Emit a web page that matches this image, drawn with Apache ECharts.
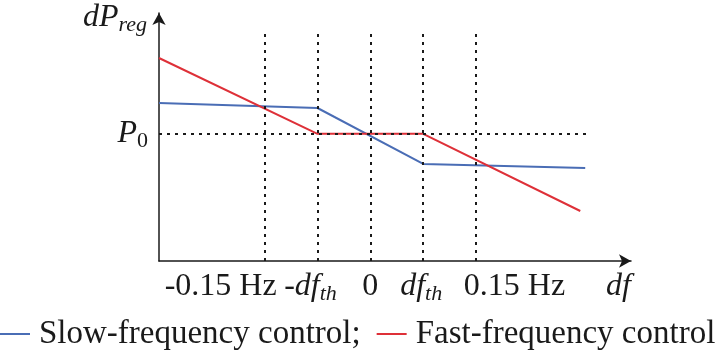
<!DOCTYPE html>
<html><head><meta charset="utf-8">
<script src="https://cdn.jsdelivr.net/npm/echarts@6/dist/echarts.min.js"></script>
<style>html,body{margin:0;padding:0;background:#fff}#c{width:718px;height:355px}</style>
</head><body><div id="c"></div>
<script>
// ---------------- data ----------------
const tickValues = [-0.15, -0.075, 0, 0.075, 0.15];
const tickLabels = ['-0.15 Hz', '-df_th', '0', 'df_th', '0.15 Hz'];
const slowX = [-0.3, -0.075, 0.075, 0.305];
const slowY = [1.242, 1.203, 0.763, 0.731];
const fastX = [-0.3, -0.075, 0.075, 0.298];
const fastY = [1.596, 1.0, 1.0, 0.393];
const p0Value = 1.0;
const guideTop = 1.8;
const guideRight = 0.3075;
const seriesNames = ['Slow-frequency control;', 'Fast-frequency control'];
const yAxisName = 'dP_reg';
const xAxisName = 'df';
const p0Label = 'P_0';

// ---------------- style ----------------
const FONT = "'Liberation Serif', 'Times New Roman', serif";
const INK = '#1a1a1a';
const BLUE = '#4a6db5';
const RED = '#de3038';
const labelShift = [-44, -7, 0, -2, 38.5]; // horizontal nudge of tick labels (px)
const X_MIN = -0.3, X_MAX = 0.37;

const rich = {
  t: {fontFamily: FONT, fontSize: 32, lineHeight: 36, color: INK},
  i: {fontFamily: FONT, fontSize: 32, lineHeight: 36, color: INK, fontStyle: 'italic'},
  s: {fontFamily: FONT, fontSize: 22, lineHeight: 18, color: INK, fontStyle: 'italic', verticalAlign: 'bottom'},
  s0: {fontFamily: FONT, fontSize: 22, lineHeight: 18, color: INK, verticalAlign: 'bottom'}
};
labelShift.forEach((s, k) => { rich['sp' + k] = {fontSize: 10, lineHeight: 36, width: Math.abs(s) * 2}; });

function toRich(label) {
  const parts = label.split('_');
  const main = parts[0];
  let out = '';
  if (/^-?[A-Za-z]+$/.test(main)) {
    const m = main.match(/^(-?)([A-Za-z]+)$/);
    if (m[1]) out += '{t|' + m[1] + '}';
    out += '{i|' + m[2] + '}';
  } else {
    out += '{t|' + main + '}';
  }
  if (parts[1] !== undefined) {
    out += /^[0-9]+$/.test(parts[1]) ? '{s0|' + parts[1] + '}' : '{s|' + parts[1] + '}';
  }
  return out;
}

function tickText(k) {
  const body = toRich(tickLabels[k]);
  const s = labelShift[k];
  if (s < 0) return body + '{sp' + k + '| }';
  if (s > 0) return '{sp' + k + '| }' + body;
  return body;
}

const chart = echarts.init(document.getElementById('c'), null, {renderer: 'canvas'});

const guideLines = tickValues.map(v => [{coord: [v, 0]}, {coord: [v, guideTop]}]);
guideLines.push([{coord: [slowX[0], p0Value]}, {coord: [guideRight, p0Value]}]);

// main x axis (line, arrow, name)
const xAxes = [{
  type: 'value', min: X_MIN, max: X_MAX,
  name: toRich(xAxisName), nameLocation: 'end', nameGap: 0, nameMoveOverlap: false,
  nameTextStyle: {align: 'right', verticalAlign: 'top', padding: [8, 0, 0, 0], rich: rich},
  axisLine: {show: true, onZero: false, symbol: ['none', 'arrow'], symbolSize: [10, 12],
    lineStyle: {color: INK, width: 1.5}},
  axisTick: {show: false},
  splitLine: {show: false},
  axisLabel: {show: false}
}];
// one label-carrying axis per tick, so no label is auto-hidden
tickValues.forEach((v, k) => {
  xAxes.push({
    type: 'value', min: X_MIN, max: X_MAX, position: 'bottom', offset: 0,
    axisLine: {show: false}, axisTick: {show: false}, splitLine: {show: false},
    axisLabel: {customValues: [v], formatter: () => tickText(k), margin: 8, rich: rich, hideOverlap: false}
  });
});

chart.setOption({
  animation: false,
  backgroundColor: '#fff',
  grid: {left: 159, right: 87, top: 13, bottom: 94, containLabel: false, outerBoundsMode: 'none'},
  legend: {
    data: seriesNames,
    left: 0, top: 317, width: 760, padding: 0,
    itemWidth: 30, itemHeight: 14, itemGap: 16,
    icon: 'path://M0,6 L30,6 L30,8 L0,8 Z',
    textStyle: {fontFamily: FONT, fontSize: 33, lineHeight: 34, color: INK, padding: [0, 0, 0, 4]}
  },
  xAxis: xAxes,
  yAxis: {
    type: 'value', min: 0, max: 1.95,
    name: toRich(yAxisName), nameLocation: 'end', nameGap: 13, nameMoveOverlap: false,
    nameTextStyle: {align: 'right', verticalAlign: 'top', padding: [0, 12, 0, 0], rich: rich},
    axisLine: {show: true, onZero: false, symbol: ['none', 'arrow'], symbolSize: [10, 12],
      lineStyle: {color: INK, width: 1.5}},
    axisTick: {show: false},
    splitLine: {show: false},
    axisLabel: {customValues: [p0Value], formatter: () => toRich(p0Label), margin: 11, rich: rich}
  },
  series: [
    {
      name: 'guides', type: 'line', data: [], silent: true, z: 1, xAxisIndex: 0,
      markLine: {
        silent: true, symbol: ['none', 'none'], label: {show: false},
        lineStyle: {color: INK, type: [3, 5], width: 2},
        emphasis: {disabled: true},
        data: guideLines
      }
    },
    {
      name: seriesNames[0], type: 'line', symbol: 'none', z: 3, xAxisIndex: 0,
      lineStyle: {color: BLUE, width: 2}, itemStyle: {color: BLUE},
      data: slowX.map((x, k) => [x, slowY[k]])
    },
    {
      name: seriesNames[1], type: 'line', symbol: 'none', z: 3, xAxisIndex: 0,
      lineStyle: {color: RED, width: 2}, itemStyle: {color: RED},
      data: fastX.map((x, k) => [x, fastY[k]])
    }
  ]
});
</script></body></html>
